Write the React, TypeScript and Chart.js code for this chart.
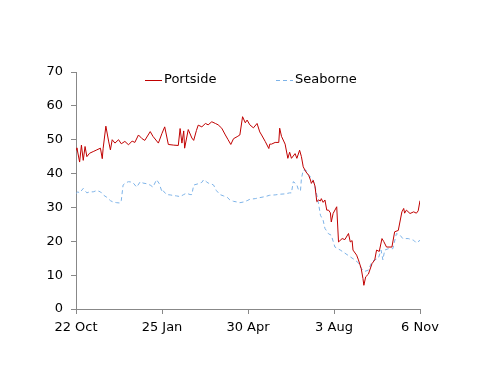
import React, { useEffect, useRef } from "react";
import { Chart, registerables } from "chart.js";

Chart.register(...registerables);

// Days since 22 Oct (x axis spans 380 days, labelled every 95 days)
const tickDays = [0, 95, 190, 285, 380];
const tickLabels = ["22 Oct", "25 Jan", "30 Apr", "3 Aug", "6 Nov"];

const seriesNames = ["Portside", "Seaborne"];

const portsideDays = [
  0, 1, 4, 6, 8, 10, 12, 15, 19, 23, 27, 29, 30, 33, 36, 38, 40, 43, 47, 50,
  54, 58, 62, 65, 69, 73, 76, 82, 85, 91, 95, 98, 102, 108, 113, 115, 117, 119, 120, 124,
  128, 130, 133, 135, 139, 143, 146, 150, 154, 157, 161, 165, 168, 171, 174, 178, 181, 184, 187, 189,
  192, 196, 200, 203, 205, 209, 213, 214, 216, 220, 224, 225, 227, 231, 234, 236, 238, 242, 244, 247,
  249, 251, 254, 257, 259, 260, 262, 264, 266, 268, 270, 271, 273, 275, 277, 279, 281, 282, 284, 288,
  290, 294, 297, 301, 303, 305, 306, 310, 312, 315, 317, 318, 320, 323, 327, 330, 332, 335, 338, 340,
  343, 349, 352, 356, 360, 362, 363, 365, 369, 373, 376, 378, 380,
];
const portsideValues = [
  47.0, 47.6, 43.4, 48.4, 43.9, 48.0, 45.0, 46.0, 46.5, 47.0, 47.5, 44.4, 47.5, 54.0, 49.6, 47.0, 50.0, 49.0, 50.0, 48.8,
  49.5, 48.5, 49.6, 49.2, 51.4, 50.3, 49.8, 52.4, 51.0, 49.0, 51.9, 53.8, 48.6, 48.4, 48.3, 53.3, 49.0, 52.6, 47.5, 53.0,
  50.5, 49.8, 52.7, 54.3, 53.8, 54.8, 54.4, 55.3, 54.8, 54.4, 53.4, 51.4, 50.0, 48.6, 50.3, 50.9, 51.4, 56.8, 55.0, 55.8,
  54.4, 53.5, 54.8, 52.3, 51.4, 49.5, 47.4, 48.7, 48.7, 49.2, 49.2, 53.4, 51.0, 48.7, 44.5, 46.3, 44.5, 45.9, 44.5, 46.9,
  45.0, 42.0, 40.5, 39.5, 38.1, 37.1, 38.0, 36.3, 31.7, 32.2, 31.9, 32.6, 31.5, 32.2, 29.2, 29.2, 28.4, 25.7, 28.2, 30.2,
  19.8, 20.8, 20.5, 22.3, 19.8, 20.2, 17.4, 15.9, 14.5, 12.0, 9.0, 7.0, 9.5, 10.3, 13.4, 14.5, 17.4, 17.0, 20.8, 19.9,
  18.3, 18.3, 22.8, 23.2, 28.7, 29.7, 28.3, 29.2, 28.2, 28.7, 28.3, 29.0, 32.0,
];

const seaborneDays = [
  0, 2, 4, 8, 12, 15, 19, 23, 27, 30, 34, 38, 41, 45, 49, 50, 52, 55, 58, 61,
  63, 67, 71, 74, 78, 82, 85, 89, 92, 95, 96, 100, 104, 108, 111, 115, 119, 122, 126, 128,
  130, 135, 139, 141, 144, 146, 149, 152, 155, 159, 163, 167, 170, 174, 178, 181, 185, 189, 192, 198,
  203, 209, 214, 220, 225, 231, 236, 238, 240, 242, 244, 246, 248, 249, 251, 254, 257, 260, 262, 265,
  268, 270, 273, 275, 279, 282, 286, 292, 297, 303, 308, 312, 315, 319, 323, 327, 330, 334, 337, 339,
  341, 345, 350, 354, 358, 361, 367, 373, 376, 380,
];
const seaborneValues = [
  34.1, 34.6, 34.3, 35.6, 34.3, 34.6, 34.6, 35.0, 34.6, 33.7, 33.0, 32.0, 31.6, 31.4, 31.3, 32.0, 36.6, 37.3, 37.6, 37.5,
  37.3, 36.0, 37.6, 37.2, 37.0, 36.6, 36.0, 38.2, 37.0, 34.6, 35.0, 33.8, 33.7, 33.5, 33.4, 33.2, 33.8, 34.2, 33.8, 33.8,
  36.6, 37.0, 37.4, 38.2, 37.6, 37.2, 37.0, 36.6, 35.0, 33.8, 33.4, 33.0, 32.2, 31.8, 31.6, 31.4, 31.6, 32.0, 32.4, 32.6,
  32.9, 33.2, 33.6, 33.7, 33.9, 34.0, 34.3, 34.3, 37.6, 37.2, 36.6, 35.0, 35.0, 38.5, 41.0, 41.0, 39.5, 38.8, 38.0, 35.0,
  31.0, 27.7, 26.2, 23.8, 22.2, 21.8, 18.3, 17.4, 16.5, 15.4, 14.5, 13.6, 12.0, 11.1, 11.5, 14.0, 14.5, 15.0, 17.4, 14.5,
  17.4, 17.8, 17.8, 22.3, 21.8, 20.8, 20.8, 20.3, 19.5, 20.3,
];

const yMin = 0;
const yMax = 70;
const yStep = 10;

const FONT = "'DejaVu Sans', Verdana, sans-serif";

const legendPlugin = {
  id: "customLegend",
  afterDraw(chart: any, _args: any, opts: any) {
    const ctx = chart.ctx;
    ctx.save();
    ctx.font = `13px ${FONT}`;
    ctx.textBaseline = "middle";
    chart.data.datasets.forEach((ds: any, i: number) => {
      const x = opts.starts[i];
      const y = opts.y;
      ctx.strokeStyle = ds.borderColor;
      ctx.lineWidth = 1;
      ctx.setLineDash(ds.borderDash || []);
      ctx.beginPath();
      ctx.moveTo(x, y + 0.5);
      ctx.lineTo(x + opts.lineWidth, y + 0.5);
      ctx.stroke();
      ctx.setLineDash([]);
      ctx.fillStyle = "#000";
      ctx.fillText(ds.label, x + opts.lineWidth + 2, y);
    });
    ctx.restore();
  },
};

export default function App() {
  const ref = useRef<HTMLCanvasElement | null>(null);
  useEffect(() => {
    if (!ref.current) return;
    const chart = new Chart(ref.current, {
      type: "line",
      data: {
        datasets: [
          {
            label: seriesNames[0],
            data: portsideDays.map((d, i) => ({ x: d, y: portsideValues[i] })),
            borderColor: "#c00000",
            borderWidth: 1,
            pointRadius: 0,
            tension: 0,
            fill: false,
          },
          {
            label: seriesNames[1],
            data: seaborneDays.map((d, i) => ({ x: d, y: seaborneValues[i] })),
            borderColor: "#7db3e8",
            borderWidth: 1,
            borderDash: [4, 3],
            pointRadius: 0,
            tension: 0,
            fill: false,
          },
        ],
      },
      options: {
        responsive: false,
        animation: false,
        layout: { padding: { left: 0, right: 80, top: 72, bottom: 0 } },
        plugins: {
          legend: { display: false },
          tooltip: { enabled: false },
          customLegend: { starts: [145, 276], y: 80, lineWidth: 17 },
        } as any,
        scales: {
          x: {
            type: "linear",
            min: tickDays[0],
            max: tickDays[tickDays.length - 1],
            afterBuildTicks: (scale: any) => {
              scale.ticks = tickDays.map((v) => ({ value: v }));
            },
            afterFit: (scale: any) => {
              scale.height = 77;
            },
            ticks: {
              autoSkip: false,
              maxRotation: 0,
              padding: 6,
              color: "#000",
              font: { family: FONT, size: 13 },
              callback: (v: any) => {
                const i = tickDays.indexOf(Number(v));
                return i >= 0 ? tickLabels[i] : "";
              },
            },
            grid: {
              display: true,
              drawOnChartArea: false,
              drawTicks: true,
              tickLength: 5,
              color: "#888888",
            },
            border: { display: true, color: "#888888", width: 1 },
          },
          y: {
            min: yMin,
            max: yMax,
            afterFit: (scale: any) => {
              scale.width = 76;
            },
            ticks: {
              stepSize: yStep,
              padding: 8,
              color: "#000",
              font: { family: FONT, size: 13 },
            },
            grid: {
              display: true,
              drawOnChartArea: false,
              drawTicks: true,
              tickLength: 5,
              color: "#888888",
            },
            border: { display: true, color: "#888888", width: 1 },
          },
        },
      },
      plugins: [legendPlugin],
    });
    return () => chart.destroy();
  }, []);
  return (
    <div style={{ position: "fixed", left: 0, top: 0, width: 500, height: 386, background: "#fff" }}>
      <canvas ref={ref} width={500} height={386} style={{ width: 500, height: 386, display: "block" }} />
    </div>
  );
}
